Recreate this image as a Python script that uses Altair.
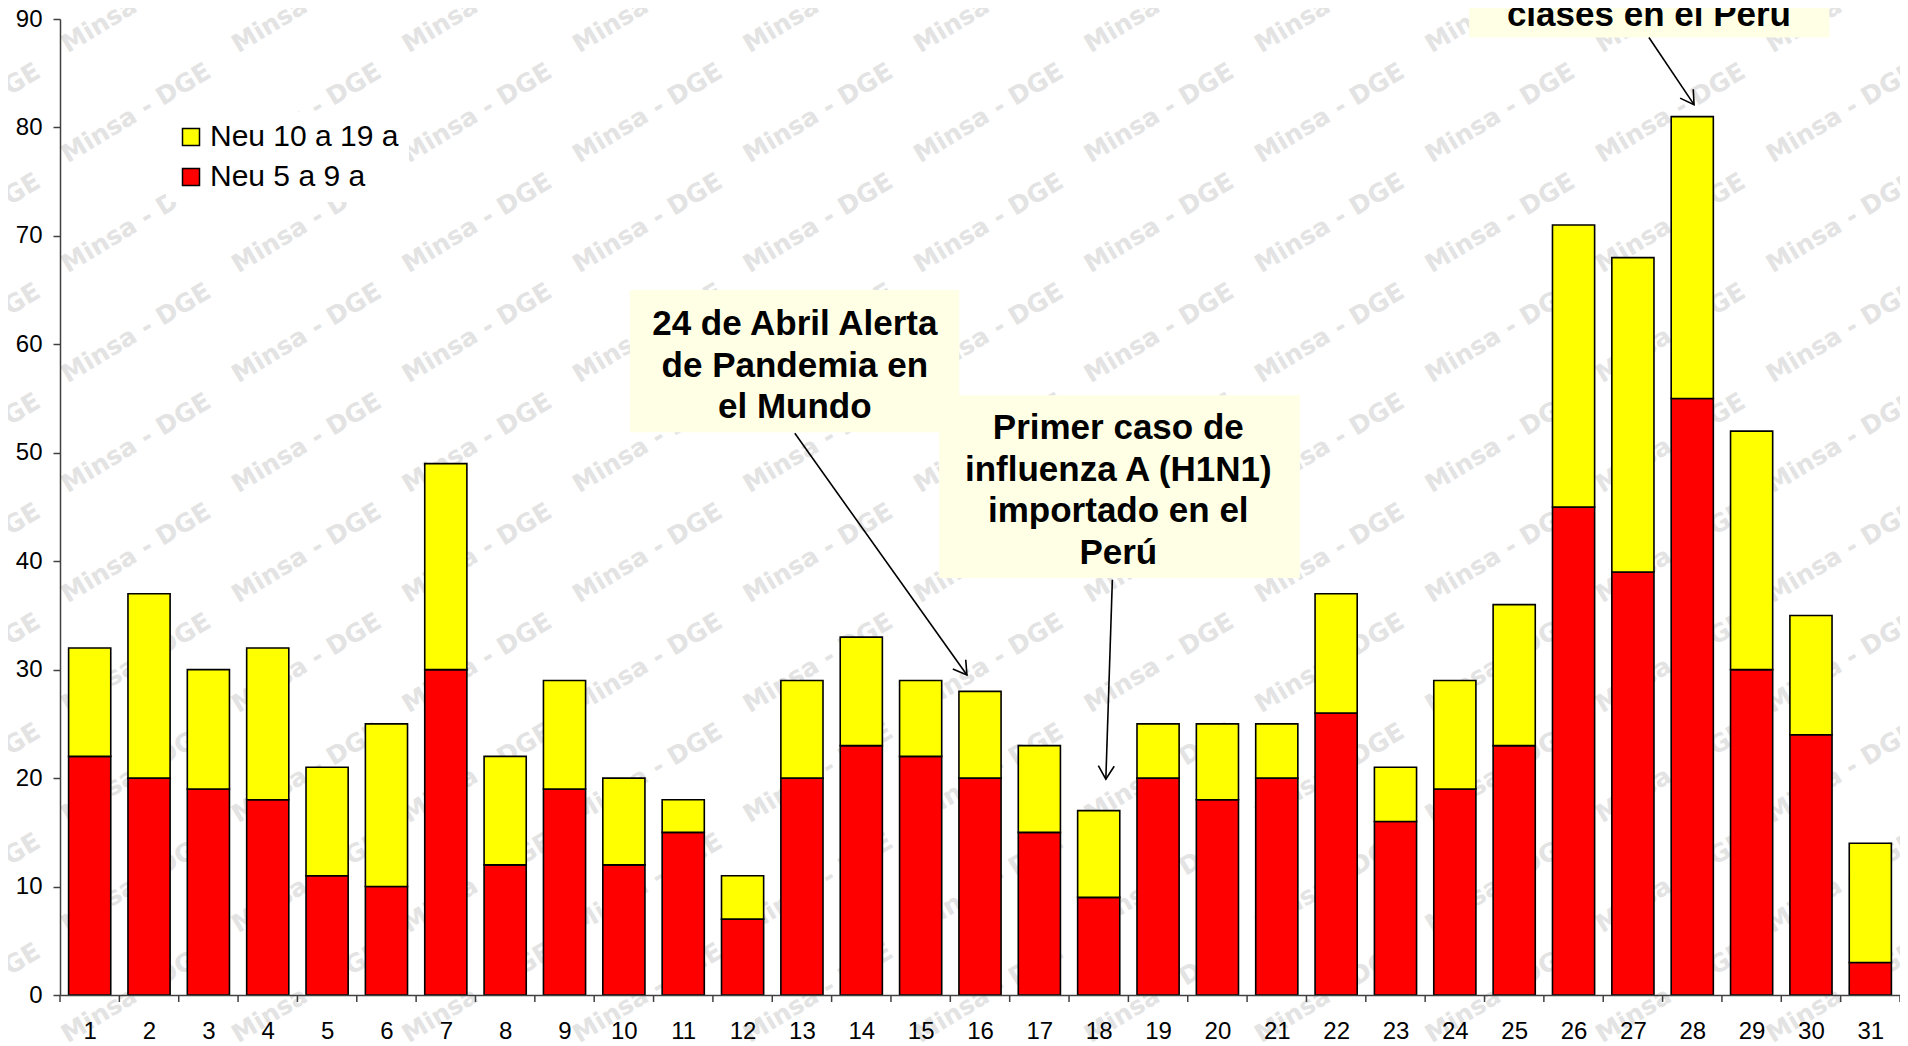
import math
import altair as alt
import numpy as np
import pandas as pd

# ---------------- data ----------------
days = list(range(1, 32))
total = [32, 37, 30, 32, 21, 25, 49, 22, 29, 20, 18, 11, 29, 33, 29, 28,
         23, 17, 25, 25, 25, 37, 21, 29, 36, 71, 68, 81, 52, 35, 14]
red_5_9 = [22, 20, 19, 18, 11, 10, 30, 12, 19, 12, 15, 7, 20, 23, 22, 20,
           15, 9, 20, 18, 20, 26, 16, 19, 23, 45, 39, 55, 30, 24, 3]
yellow_10_19 = [t - r for t, r in zip(total, red_5_9)]
series = ["Neu 10 a 19 a", "Neu 5 a 9 a"]
colors = ["#ffff00", "#ff0000"]
y_ticks = list(range(0, 100, 10))

# annotations (data coordinates: day units, case units)
ann_text = ["24 de Abril Alerta\nde Pandemia en\nel Mundo",
            "Primer caso de\ninfluenza A (H1N1)\nimportado en el\nPerú",
            "clases en el Peru"]
ann_tx = [12.88, 18.33, 27.27]
ann_ty = [61.84, 52.27, 90.37]   # centre of first line
box_x0 = [10.10, 15.31, 24.24]
box_x1 = [15.65, 21.39, 30.31]
box_y0 = [51.9, 38.45, 88.3]
box_y1 = [65.0, 55.3, 95.0]
arr_x0 = [12.88, 18.23, 27.27]
arr_y0 = [51.8, 38.3, 88.3]
arr_x1 = [15.78, 18.12, 28.03]
arr_y1 = [29.5, 19.9, 82.1]

# ---------------- layout ----------------
W, H = 1840, 976
XMIN, XMAX = 0.5, 31.5
YMAX = 90
px_x = W / (XMAX - XMIN)
px_y = H / YMAX
HALF_BAR = 0.355
FONT = "Liberation Sans"
AXIS_COLOR = "#404040"

bars = []
for d, r, yv in zip(days, red_5_9, yellow_10_19):
    bars.append({"day": d, "series": series[1], "lo": 0, "hi": r,
                 "x0": d - HALF_BAR, "x1": d + HALF_BAR})
    bars.append({"day": d, "series": series[0], "lo": r, "hi": r + yv,
                 "x0": d - HALF_BAR, "x1": d + HALF_BAR})
bars_df = pd.DataFrame(bars)

xs = alt.Scale(domain=[XMIN, XMAX], nice=False, zero=False)
ys = alt.Scale(domain=[0, YMAX], nice=False)

# watermark (decorative background pattern)
wm = []
for i in range(-3, 10):
    for j in range(-2, 9):
        wm.append({"px": 417 + 170.5 * i, "py": 204 + 110 * j, "t": "Minsa - DGE"})
wm_df = pd.DataFrame(wm)
watermark = alt.Chart(wm_df).mark_text(
    font="DejaVu Sans", fontSize=25, fontWeight="bold", color="#e3e3e3", angle=329,
    align="center", baseline="middle"
).encode(
    x=alt.X("px:Q", scale=None, axis=None),
    y=alt.Y("py:Q", scale=None, axis=None),
    text="t:N",
)

bar_layer = alt.Chart(bars_df).mark_bar(stroke="black", strokeWidth=1.6).encode(
    x=alt.X("x0:Q", scale=xs,
            axis=alt.Axis(values=days, format="d", title=None, ticks=False, grid=False,
                          labelFontSize=24, labelFont=FONT, labelColor="black",
                          labelPadding=24, domainColor=AXIS_COLOR, domainWidth=1.5,
                          labelFlush=False, labelOverlap=False, zindex=1)),
    x2="x1:Q",
    y=alt.Y("lo:Q", scale=ys,
            axis=alt.Axis(values=y_ticks, format="d", title=None, grid=False, tickSize=7,
                          tickColor=AXIS_COLOR, tickWidth=1.5,
                          labelFontSize=24, labelFont=FONT, labelColor="black",
                          labelPadding=11, domainColor=AXIS_COLOR, domainWidth=1.5,
                          labelFlush=False, zindex=1)),
    y2="hi:Q",
    fill=alt.Fill("series:N", scale=alt.Scale(domain=series, range=colors),
                  legend=alt.Legend(title=None, orient="none", legendX=106, legendY=93,
                                    fillColor="white", padding=10, labelLimit=0,
                                    labelFontSize=30, labelFont=FONT, labelColor="black",
                                    symbolType="square", symbolSize=289,
                                    symbolStrokeColor="black", symbolStrokeWidth=1.5,
                                    rowPadding=10, labelOffset=4)),
)

# x-axis ticks between categories
tick_df = pd.DataFrame({"b": [d - 0.5 for d in days] + [days[-1] + 0.5]})
ticks = alt.Chart(tick_df).mark_rule(color=AXIS_COLOR, strokeWidth=1.5).encode(
    x=alt.X("b:Q", scale=xs),
    y=alt.value(H),
    y2=alt.value(H + 7),
)

boxes_df = pd.DataFrame({"x0": box_x0, "x1": box_x1, "y0": box_y0, "y1": box_y1})
boxes = alt.Chart(boxes_df).mark_rect(fill="#ffffe6", clip=False).encode(
    x=alt.X("x0:Q", scale=xs), x2="x1:Q",
    y=alt.Y("y0:Q", scale=ys), y2="y1:Q",
)

text_df = pd.DataFrame({"t": ann_text, "x": ann_tx, "y": ann_ty})
texts = alt.Chart(text_df).mark_text(
    font=FONT, fontSize=35, fontWeight="bold", color="black", lineBreak="\n",
    lineHeight=41.5, align="center", baseline="middle"
).encode(
    x=alt.X("x:Q", scale=xs), y=alt.Y("y:Q", scale=ys), text="t:N",
)

angles = []
for a0, b0, a1, b1 in zip(arr_x0, arr_y0, arr_x1, arr_y1):
    dx = (a1 - a0) * px_x
    dy = -(b1 - b0) * px_y
    angles.append(math.degrees(math.atan2(-dx, dy)) % 360)
arrow_df = pd.DataFrame({"x0": arr_x0, "y0": arr_y0, "x1": arr_x1, "y1": arr_y1,
                         "ang": angles})
arrow_lines = alt.Chart(arrow_df).mark_rule(color="black", strokeWidth=1.6).encode(
    x=alt.X("x0:Q", scale=xs), y=alt.Y("y0:Q", scale=ys),
    x2="x1:Q", y2="y1:Q",
)
arrow_heads = alt.Chart(arrow_df).mark_point(
    shape="M-0.6,-1L0,0L0.6,-1", filled=False, stroke="black", strokeWidth=1.6,
    size=700, opacity=1
).encode(
    x=alt.X("x1:Q", scale=xs), y=alt.Y("y1:Q", scale=ys),
    angle=alt.Angle("ang:Q", scale=None),
)

chart = alt.layer(
    watermark, bar_layer, ticks, boxes, texts, arrow_lines, arrow_heads
).properties(
    width=W, height=H,
    autosize=alt.AutoSizeParams(type="none"),
    padding={"left": 52, "top": 11, "right": 0, "bottom": 48},
    background="white",
).configure_view(stroke=None)

chart.save("out.html", embed_options={"renderer": "svg", "actions": False})
